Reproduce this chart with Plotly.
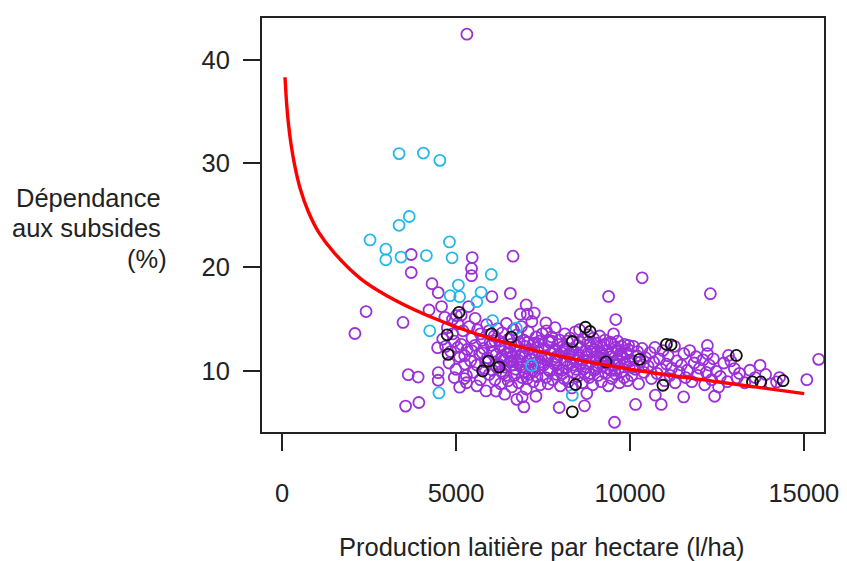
import plotly.graph_objects as go

# ---------------- data ----------------
purple_x = [5313, 3713, 5466, 6640, 5447, 5447, 3713, 4310, 4489, 6034, 6563, 4585, 4225, 5361, 2415, 3477, 2094,
            7017, 6850, 7050, 7250, 5011, 3628, 3912, 4489, 4489, 3551, 3932, 5105, 5239, 5864, 6903, 6952, 4471,
            10352, 9387, 12313, 9594, 7585, 15427, 15086, 13742, 14216, 13003, 13080, 12833, 12227, 12227, 10162,
            9557, 10901, 11545, 12435, 7966, 8694, 8762, 10731,
            # region A
            4620, 4700, 4750, 4800, 4850, 4900, 4950, 5000, 5050, 5100, 5150, 5200, 5250, 5300, 5320, 5380, 5420,
            5460, 5500, 5550, 5600, 5620, 5680, 5700, 5750, 5800, 5820, 5880, 5900, 5950, 5980, 4680, 4900, 5150,
            5550, 5300, 5600, 4950, 5700, 5450, 5850, 5050, 5750, 5950, 5250,
            # region B
            6020, 6050, 6100, 6120, 6150, 6200, 6220, 6250, 6280, 6300, 6330, 6350, 6400, 6420, 6450, 6480, 6500,
            6520, 6550, 6580, 6600, 6620, 6650, 6680, 6700, 6720, 6750, 6780, 6800, 6820, 6850, 6880, 6900, 6920,
            6950, 6980, 7000, 7020, 7050, 7080, 7100, 7120, 7150, 7180, 7200, 7220, 7250, 7280, 7300, 7330, 7350,
            7380, 7400, 7420, 7450, 7480, 6150, 6400, 6750, 7300, 7050, 6300, 6600, 6900, 7200,
            # region C
            7520, 7550, 7580, 7600, 7630, 7650, 7680, 7700, 7730, 7750, 7780, 7800, 7830, 7850, 7880, 7900, 7930,
            7950, 7980, 8000, 8030, 8050, 8080, 8100, 8130, 8150, 8180, 8200, 8230, 8250, 8280, 8300, 8330, 8350,
            8380, 8400, 8430, 8450, 8480, 8500, 8530, 8550, 8580, 8600, 8630, 8650, 8680, 8700, 8730, 8750, 8780,
            8800, 8830, 8850, 8880, 8900, 8930, 8950, 8980,
            # region D
            9020, 9050, 9080, 9100, 9130, 9150, 9180, 9200, 9230, 9250, 9280, 9300, 9330, 9350, 9380, 9400, 9430,
            9450, 9480, 9500, 9530, 9550, 9580, 9600, 9630, 9650, 9680, 9700, 9730, 9750, 9780, 9800, 9830, 9850,
            9880, 9900, 9930, 9950, 9980, 10000, 10050, 10100, 10150, 10200, 10250, 10300, 10350, 10400, 10450,
            # region E
            10520, 10580, 10620, 10680, 10720, 10780, 10850, 10900, 10950, 11000, 11050, 11100, 11150, 11200, 11280,
            11300, 11350, 11420, 11480, 11550, 11600, 11650, 11720, 11780, 11850, 11900, 11950, 12000, 12100, 12150,
            12200, 12280, 12350, 12400, 12480,
            # region F
            12600, 12700, 12800, 12900, 13150, 13300, 13450, 13600, 13900, 14050, 14300, 12550,
            # core of the cloud
            6060, 6180, 6260, 6370, 6440, 6560, 6640, 6730, 6830, 6960, 7060, 7160, 7260, 7360, 7460, 7560, 7660,
            7760, 7860, 7960, 8060, 8160, 8260, 8360, 8460, 8560, 8660, 8760, 8860, 8960, 9060, 9160, 9260, 9360,
            9460, 9560, 9660, 9760, 9860, 9960, 10080, 10220, 10380, 6120, 6330, 6540, 6760, 6990, 7210, 7430,
            7660, 7890, 8110, 8340, 8570, 8790, 9010, 9240, 9470, 9700, 9920]
purple_y = [42.44, 21.24, 20.95, 21.08, 19.9, 19.2, 19.51, 18.43, 17.57, 17.18, 17.5, 16.23, 15.9, 16.23, 15.75, 14.7, 13.64,
            16.39, 15.5, 15.5, 15.6, 15.36, 9.68, 9.45, 9.87, 9.14, 6.65, 7.0, 8.47, 9.3, 8.11, 7.54, 6.58, 12.27,
            19.0, 17.21, 17.47, 14.98, 14.66, 11.15, 9.2, 10.57, 8.98, 10.26, 9.36, 11.53, 12.49, 11.7, 6.81,
            5.1, 6.81, 7.54, 7.6, 6.52, 6.68, 7.86, 7.7,
            # region A
            13.1, 12.4, 14.2, 10.8, 11.9, 13.6, 12.9, 10.2, 14.6, 11.4, 12.6, 13.9, 10.7, 9.6, 12.1, 14.3, 11.0,
            13.2, 9.9, 12.5, 10.6, 14.0, 11.7, 9.2, 13.0, 12.2, 10.3, 14.5, 11.3, 9.7, 12.8, 15.2, 15.0, 15.4,
            15.1, 8.9, 8.6, 9.4, 13.6, 12.0, 10.9, 12.3, 11.8, 13.9, 11.5,
            # region B
            12.5, 10.1, 13.4, 9.2, 11.6, 14.1, 10.7, 12.9, 8.8, 11.2, 13.7, 9.8, 12.2, 10.4, 14.6, 11.8, 9.1,
            13.1, 10.9, 12.6, 8.5, 11.4, 14.0, 9.6, 12.0, 10.2, 13.5, 11.1, 8.9, 12.8, 10.6, 14.3, 9.4, 11.7,
            13.0, 10.0, 12.4, 8.3, 11.0, 13.8, 9.7, 12.1, 10.5, 14.8, 11.5, 9.0, 12.7, 10.8, 13.3, 9.5, 11.9,
            10.3, 12.9, 8.7, 11.3, 13.6, 8.1, 7.8, 7.3, 7.6, 9.3, 10.0, 11.0, 10.4, 10.1,
            # region C
            10.6, 12.2, 9.4, 13.9, 11.1, 8.8, 12.8, 10.0, 11.7, 13.3, 9.2, 12.0, 10.7, 14.2, 11.4, 9.7, 12.6,
            10.3, 13.0, 8.6, 11.8, 10.1, 12.4, 9.3, 13.6, 11.0, 10.4, 12.9, 9.0, 11.5, 13.2, 10.8, 8.4, 12.1,
            9.9, 11.3, 13.8, 10.2, 12.5, 9.5, 11.6, 14.0, 10.6, 12.3, 8.9, 11.1, 13.1, 9.8, 12.0, 10.4, 11.7,
            13.5, 9.4, 12.6, 10.9, 11.9, 8.7, 13.2, 10.1,
            # region D
            11.4, 12.7, 9.6, 10.8, 13.4, 11.9, 9.0, 12.3, 10.5, 11.2, 13.0, 9.8, 12.0, 10.9, 8.6, 11.6, 12.8,
            10.1, 9.3, 11.9, 13.6, 10.6, 12.3, 9.7, 11.1, 12.9, 10.3, 8.9, 11.7, 12.4, 10.0, 11.3, 9.4, 12.6,
            10.7, 11.8, 9.1, 12.1, 10.4, 11.0, 9.6, 12.4, 10.2, 11.5, 8.8, 10.9, 12.2, 9.9, 11.3,
            # region E
            10.5, 11.8, 9.3, 10.9, 12.3, 9.8, 11.2, 10.2, 12.0, 9.1, 10.7, 11.5, 9.6, 10.3, 12.4,
            8.9, 11.0, 9.9, 10.6, 11.7, 9.4, 10.1, 12.0, 9.0, 10.8, 11.4, 9.6, 10.3, 11.1, 8.7,
            9.9, 10.6, 9.2, 11.2, 10.0,
            # region F
            9.5, 10.8, 9.0, 11.0, 9.8, 8.9, 10.1, 9.4, 9.7, 8.8, 9.4, 8.5,
            # core of the cloud
            11.9, 10.4, 12.3, 11.1, 9.6, 11.8, 10.6, 12.5, 11.4, 9.9, 12.8, 11.2, 10.0, 12.3, 10.7, 11.5, 10.2,
            12.9, 10.9, 11.6, 9.8, 12.2, 11.7, 10.6, 11.0, 12.8, 10.2, 11.4, 9.8, 12.1, 10.5, 11.7, 12.6, 10.3,
            11.4, 10.1, 12.0, 11.6, 10.8, 12.5, 10.4, 11.9, 10.6, 12.9, 11.5, 12.3, 10.8, 11.5, 12.6, 10.9,
            13.0, 11.1, 12.1, 11.9, 10.8, 12.8, 10.3, 11.5, 12.7, 10.9, 11.7]

cyan_x = [3364, 4063, 4537, 3656, 3364, 2529, 2983, 2983, 3420, 4148, 4812, 4887, 6014, 5068, 4831, 5105,
          5721, 5598, 4245, 6052, 4509, 7171, 6733, 8344]
cyan_y = [30.95, 31.0, 30.3, 24.9, 24.05, 22.64, 21.75, 20.73, 20.99, 21.14, 22.45, 20.92, 19.32, 18.3, 17.28, 17.18,
          17.6, 16.7, 13.9, 14.88, 7.92, 10.57, 14.15, 7.7]

black_x = [5086, 4745, 4773, 5767, 6242, 5938, 6023, 6591, 8344, 8438, 8722, 8856, 8344, 11185, 11050, 13060,
           13523, 13762, 14404, 10276, 10949, 9310]
black_y = [15.68, 13.51, 11.63, 10.03, 10.41, 10.99, 13.6, 13.29, 6.1, 8.73, 14.24, 13.83, 12.87, 12.55, 12.6, 11.53,
           8.98, 8.98, 9.1, 11.15, 8.66, 10.9]

curve_x = [85, 130, 181, 260, 370, 520, 750, 1050, 1500, 2264, 3000, 4159, 5579, 7662, 10000, 12500, 15012]
curve_y = [38.3, 35.8, 33.9, 31.8, 29.7, 27.6, 25.4, 23.4, 21.4, 18.9, 17.3, 15.4, 13.6, 11.7, 10.2, 9.0, 7.85]

x_ticks = [0, 5000, 10000, 15000]
y_ticks = [10, 20, 30, 40]

y_title_lines = ["Dépendance", "aux subsides", "(%)"]
x_title = "Production laitière par hectare (l/ha)"

# ---------------- figure ----------------
FONT = "Liberation Sans, Arial, sans-serif"
TXT = "#222222"
FS = 25.5

# the page body has an 8px default margin; the figure is sized so that it fits the 847x561 window
W, H = 839, 553
L, T = 254, 8          # plot area left/top in figure coords (page 262 / 16)
PR, PB = 823, 424      # plot area right/bottom in figure coords (page 831 / 432)
pw, ph = PR - L, PB - T

fig = go.Figure()

def circles(x, y, color):
    fig.add_trace(go.Scatter(
        x=x, y=y, mode="markers",
        marker=dict(symbol="circle-open", size=11, color=color, line=dict(width=1.8, color=color)),
        showlegend=False, hoverinfo="skip"))

circles(purple_x, purple_y, "#9B30D9")
circles(cyan_x, cyan_y, "#22B8EA")
circles(black_x, black_y, "#111111")

fig.add_trace(go.Scatter(x=curve_x, y=curve_y, mode="lines",
                         line=dict(color="#FF0000", width=3.4, shape="spline", smoothing=0.8),
                         showlegend=False, hoverinfo="skip"))

axis_common = dict(showgrid=False, zeroline=False, showline=True, linecolor="#222222", linewidth=2,
                   mirror=True, ticks="outside", ticklen=17, tickwidth=2, tickcolor="#222222",
                   tickfont=dict(family=FONT, size=FS, color=TXT))

fig.update_xaxes(range=[-577, 15580], tickmode="array", tickvals=x_ticks,
                 ticktext=[str(v) for v in x_ticks], ticklabelstandoff=20, **axis_common)
fig.update_yaxes(range=[4.16, 44.0], tickmode="array", tickvals=y_ticks,
                 ticktext=[str(v) for v in y_ticks], ticklabelstandoff=8, **axis_common)

# y title: three right-aligned lines (page centres 197 / 227 / 258)
for line, yc, xr in zip(y_title_lines, [189, 219, 250], [154, 154, 160]):
    fig.add_annotation(text=line, xref="paper", yref="paper",
                       x=(xr - L) / pw, y=(PB - yc) / ph, xanchor="right", yanchor="middle",
                       showarrow=False, font=dict(family=FONT, size=FS, color=TXT))

fig.add_annotation(text=x_title, xref="paper", yref="paper",
                   x=(537 - L) / pw, y=(PB - 540) / ph, xanchor="center", yanchor="middle",
                   showarrow=False, font=dict(family=FONT, size=FS, color=TXT))

fig.update_layout(width=W, height=H, margin=dict(l=L, r=W - PR, t=T, b=H - PB),
                  plot_bgcolor="white", paper_bgcolor="white")

fig.write_html("out.html")
